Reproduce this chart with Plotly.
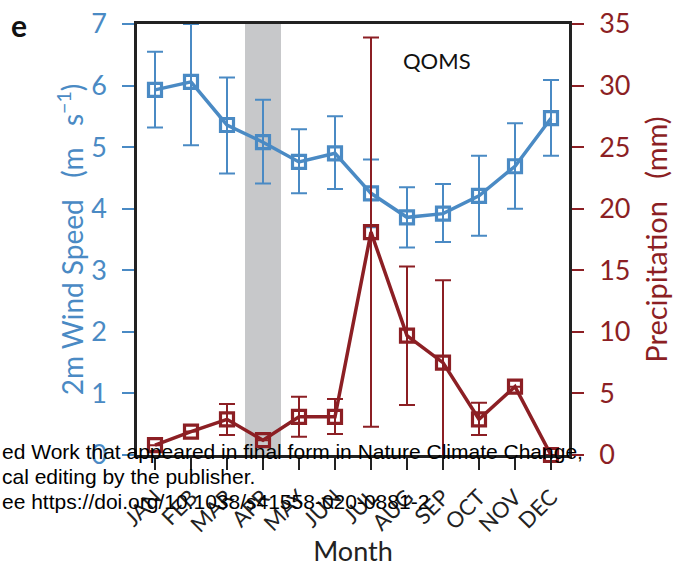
import plotly.graph_objects as go

months = ["JAN", "FEB", "MAR", "APR", "MAY", "JUN", "JUL", "AUG", "SEP", "OCT", "NOV", "DEC"]
month_idx = list(range(1, 13))

wind = [5.93, 6.06, 5.36, 5.08, 4.76, 4.90, 4.25, 3.86, 3.92, 4.21, 4.69, 5.47]
wind_hi = [6.55, 7.00, 6.13, 5.77, 5.29, 5.50, 4.80, 4.35, 4.40, 4.86, 5.39, 6.09]
wind_lo = [5.32, 5.03, 4.57, 4.41, 4.25, 4.32, 3.70, 3.37, 3.46, 3.56, 4.00, 4.86]

precip = [0.8, 1.9, 2.9, 1.2, 3.1, 3.1, 18.1, 9.7, 7.5, 2.9, 5.55, 0.0]
precip_hi = [0.8, 1.9, 4.14, 1.2, 4.74, 4.55, 33.9, 15.3, 14.2, 4.25, 5.55, 0.0]
precip_lo = [0.8, 1.9, 1.62, 1.2, 1.49, 1.70, 2.3, 4.06, -0.5, 1.62, 5.55, 0.0]

wind_ticks = [0, 1, 2, 3, 4, 5, 6, 7]
precip_ticks = [0, 5, 10, 15, 20, 25, 30, 35]

BLUE = "#4A8AC4"
RED = "#8C1F24"
FONT = "Lato"

# plot area in pixels
L, R, T, B = 137, 569, 24, 455
W, H = 676, 567


def px(xp):
    return (xp - L) / (R - L)


def py(yp):
    return (B - yp) / (B - T)


fig = go.Figure()

fig.add_trace(go.Scatter(
    x=month_idx, y=wind, mode="lines+markers",
    line=dict(color=BLUE, width=3.5),
    marker=dict(symbol="square-open", size=13, color=BLUE, line=dict(width=3.2, color=BLUE)),
    error_y=dict(type="data", symmetric=False,
                 array=[h - v for h, v in zip(wind_hi, wind)],
                 arrayminus=[v - l for v, l in zip(wind, wind_lo)],
                 color=BLUE, thickness=2, width=8),
    cliponaxis=False, yaxis="y", showlegend=False,
))

fig.add_trace(go.Scatter(
    x=month_idx, y=precip, mode="lines+markers",
    line=dict(color=RED, width=3.5),
    marker=dict(symbol="square-open", size=13, color=RED, line=dict(width=3.2, color=RED)),
    error_y=dict(type="data", symmetric=False,
                 array=[h - v for h, v in zip(precip_hi, precip)],
                 arrayminus=[v - l for v, l in zip(precip, precip_lo)],
                 color=RED, thickness=2, width=8),
    cliponaxis=False, yaxis="y2", showlegend=False,
))

fig.add_shape(type="rect", xref="x", yref="paper", x0=3.5, x1=4.5, y0=0, y1=1,
              fillcolor="#C7C8CA", line=dict(width=0), layer="below")

fig.update_layout(
    width=W, height=H,
    margin=dict(l=L, r=W - R, t=T, b=H - B, autoexpand=False),
    paper_bgcolor="white", plot_bgcolor="white",
    font=dict(family=FONT, color="black"),
    xaxis=dict(
        range=[0.5, 12.5], tickvals=month_idx, ticktext=months, tickangle=-45,
        ticks="outside", ticklen=12, tickwidth=2, tickcolor="#222",
        tickfont=dict(size=22, color="#222", family=FONT), ticklabelstandoff=6,
        showline=True, linecolor="#222", linewidth=2.5, mirror=True,
        showgrid=False, zeroline=False, automargin=False,
        title=dict(text="Month", font=dict(size=27, color="#222", family=FONT), standoff=20),
    ),
    yaxis=dict(
        range=[0, 7], tickvals=wind_ticks,
        ticks="outside", ticklen=12, tickwidth=2, tickcolor=BLUE,
        tickfont=dict(size=27, color=BLUE, family=FONT), ticklabelstandoff=10,
        showline=True, linecolor="#222", linewidth=2.5,
        showgrid=False, zeroline=False, automargin=False,
        title=dict(text="2m Wind Speed&nbsp;&nbsp; (m&nbsp;&nbsp; s<sup>−1</sup>)",
                   font=dict(size=28, color=BLUE, family=FONT), standoff=0),
    ),
    yaxis2=dict(
        range=[0, 35], tickvals=precip_ticks, overlaying="y", side="right",
        ticks="outside", ticklen=12, tickwidth=2, tickcolor=RED,
        tickfont=dict(size=27, color=RED, family=FONT), ticklabelstandoff=10,
        showline=True, linecolor="#222", linewidth=2.5,
        showgrid=False, zeroline=False, automargin=False,
        title=dict(text="Precipitation&nbsp;&nbsp; (mm)", font=dict(size=29, color=RED, family=FONT), standoff=18),
    ),
)

fig.add_annotation(x=8.83, y=py(60), xref="x", yref="paper", text="QOMS", showarrow=False,
                   xanchor="center", yanchor="middle",
                   font=dict(size=22, color="#111", family=FONT))
fig.add_annotation(x=px(19), y=py(25), xref="paper", yref="paper", text="<b>e</b>", showarrow=False,
                   xanchor="center", yanchor="middle",
                   font=dict(size=30, color="#111", family=FONT))

watermark = [
    ("ed Work that appeared in final form in Nature Climate Change,", 451),
    ("cal editing by the publisher.", 476),
    ("ee https://doi.org/10.1038/s41558-020-0881-2", 501),
]
for txt, yy in watermark:
    fig.add_annotation(x=px(0), y=py(yy), xref="paper", yref="paper", text=txt, showarrow=False,
                       xanchor="left", yanchor="middle",
                       font=dict(size=21, color="black", family="Liberation Sans"))

fig.write_html("out.html")
